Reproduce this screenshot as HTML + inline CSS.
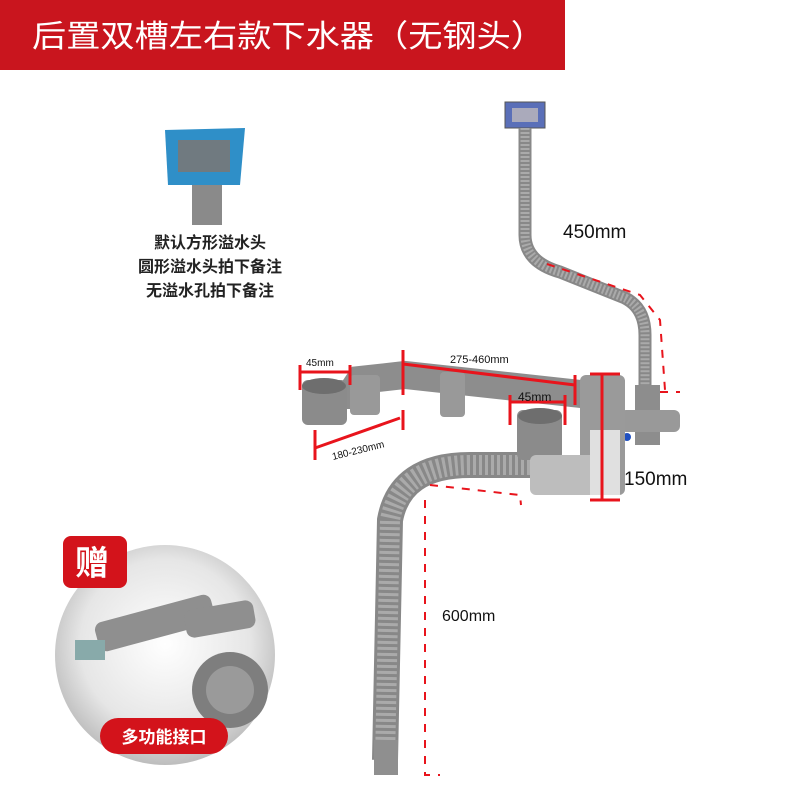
<!DOCTYPE html>
<html><head><meta charset="utf-8"><style>
body{margin:0;width:800px;height:800px;background:#fff;overflow:hidden;font-family:"Liberation Sans","Noto Sans CJK SC",sans-serif}
</style></head><body>
<svg width="800" height="800" viewBox="0 0 800 800" xmlns="http://www.w3.org/2000/svg" style="font-family:'Liberation Sans','Noto Sans CJK SC',sans-serif">
<defs>
<radialGradient id="g" cx="50%" cy="45%" r="55%"><stop offset="0" stop-color="#fff"/><stop offset="0.7" stop-color="#e6e6e6"/><stop offset="1" stop-color="#bdbdbd"/></radialGradient>
</defs>
<rect x="0" y="0" width="565" height="70" fill="#c9151e"/>
<text x="32" y="47" font-size="31" fill="#fff" textLength="513" lengthAdjust="spacingAndGlyphs">后置双槽左右款下水器（无钢头）</text>

<path d="M165 130 L245 128 L240 185 L168 185 Z" fill="#2f8fc8"/>
<rect x="178" y="140" width="52" height="32" fill="#707a80"/>
<rect x="192" y="185" width="30" height="40" fill="#8a8a8a"/>
<g font-size="16" font-weight="bold" fill="#222" text-anchor="middle">
<text x="210" y="248">默认方形溢水头</text>
<text x="210" y="272">圆形溢水头拍下备注</text>
<text x="210" y="296">无溢水孔拍下备注</text>
</g>

<rect x="505" y="102" width="40" height="26" fill="#5a6fb8" stroke="#555"/>
<rect x="512" y="108" width="26" height="14" fill="#aab"/>
<path d="M525 128 L525 235 Q525 262 560 272 L625 298 Q645 308 645 335 L645 390" fill="none" stroke="#888" stroke-width="13"/>
<path d="M525 128 L525 235 Q525 262 560 272 L625 298 Q645 308 645 335 L645 390" fill="none" stroke="#aaa" stroke-width="9" stroke-dasharray="2 2"/>
<rect x="635" y="385" width="25" height="60" fill="#8d8d8d"/>
<rect x="620" y="410" width="60" height="22" rx="6" fill="#999"/>
<circle cx="627" cy="437" r="4" fill="#2050c0"/>

<path d="M530 465 L470 465 Q400 465 390 520 L385 760" fill="none" stroke="#888" stroke-width="26"/>
<path d="M530 465 L470 465 Q400 465 390 520 L385 760" fill="none" stroke="#aaa" stroke-width="20" stroke-dasharray="3 3"/>
<rect x="374" y="740" width="24" height="35" fill="#8f8f8f"/>

<path d="M320 395 L350 395 L360 380 L405 375 L590 395" fill="none" stroke="#8d8d8d" stroke-width="28"/>
<rect x="350" y="375" width="30" height="40" rx="4" fill="#999"/>
<rect x="440" y="372" width="25" height="45" rx="4" fill="#999"/>
<rect x="302" y="380" width="45" height="45" rx="6" fill="#8b8b8b"/>
<ellipse cx="324" cy="386" rx="22" ry="8" fill="#6e6e6e"/>
<rect x="517" y="410" width="45" height="50" rx="6" fill="#8b8b8b"/>
<ellipse cx="540" cy="416" rx="22" ry="8" fill="#6e6e6e"/>
<rect x="580" y="375" width="45" height="120" rx="6" fill="#9a9a9a"/>
<rect x="530" y="455" width="80" height="40" rx="6" fill="#bdbdbd"/>
<rect x="590" y="430" width="30" height="65" fill="#e0e0e0"/>

<g stroke="#e8141c" stroke-width="3" fill="none">
<path d="M300 365 V390 M350 365 V385 M300 372 H350"/>
<path d="M403 350 V395 M575 375 V405 M403 364 L575 385"/>
<path d="M510 395 V425 M565 395 V425 M510 402 H565"/>
<path d="M315 430 V460 M403 410 V430 M315 448 L400 418"/>
<path d="M602 374 V500 M590 374 H620 M590 500 H620"/>
</g>
<g stroke="#e8141c" stroke-width="2" stroke-dasharray="8 8" fill="none">
<path d="M547 264 L640 295 L660 320 L665 390"/>
<path d="M660 392 H680"/>
<path d="M430 485 L520 495 L521 505"/>
<path d="M425 500 V775 H440"/>
</g>
<g fill="#111">
<text x="563" y="238" font-size="19">450mm</text>
<text x="306" y="366" font-size="10">45mm</text>
<text x="450" y="363" font-size="11">275-460mm</text>
<text x="518" y="401" font-size="12">45mm</text>
<text x="333" y="460" font-size="10" transform="rotate(-14 333 460)">180-230mm</text>
<text x="624" y="485" font-size="19">150mm</text>
<text x="442" y="621" font-size="16">600mm</text>
</g>

<circle cx="165" cy="655" r="110" fill="url(#g)"/>
<rect x="95" y="608" width="120" height="30" rx="8" fill="#8f8f8f" transform="rotate(-15 155 623)"/>
<rect x="185" y="605" width="70" height="28" rx="8" fill="#8f8f8f" transform="rotate(-10 220 620)"/>
<circle cx="230" cy="690" r="38" fill="#7e7e7e"/>
<circle cx="230" cy="690" r="24" fill="#9a9a9a"/>
<rect x="75" y="640" width="30" height="20" fill="#8aa"/>
<rect x="63" y="536" width="64" height="52" rx="8" fill="#d3131b"/>
<text x="75" y="575" font-size="34" font-weight="bold" fill="#fff">赠</text>
<rect x="100" y="718" width="128" height="36" rx="18" fill="#d3131b"/>
<text x="164" y="743" font-size="17" font-weight="bold" fill="#fff" text-anchor="middle">多功能接口</text>
</svg>
</body></html>
